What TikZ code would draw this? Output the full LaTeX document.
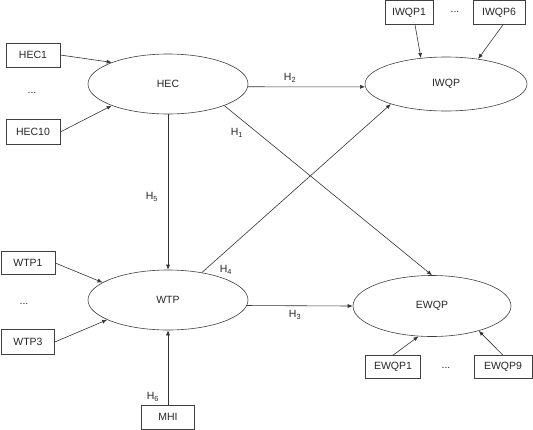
\documentclass[tikz,border=0pt]{standalone}
\usepackage{fontspec}
\setmainfont{Liberation Sans}
\usetikzlibrary{shapes.geometric,arrows.meta}
\begin{document}
\begin{tikzpicture}[x=1pt,y=-1pt,
  every node/.style={font=\fontsize{10.5}{12}\selectfont, text=black!85},
  lat/.style={draw=black!75, ellipse, line width=0.6pt, inner sep=0pt, minimum width=160pt, minimum height=60pt},
  ind/.style={draw=black!75, rectangle, line width=0.6pt, inner sep=0pt, minimum width=54pt, minimum height=24pt},
  lbl/.style={inner sep=0pt},
  arr/.style={draw=black!80, line width=0.6pt, -{Latex[length=5pt,width=4pt]}}
]
\useasboundingbox (0,0) rectangle (533,429);
% latent variables
\node[lat] (hec) at (168,84) {HEC};
\node[lat, minimum width=162pt, minimum height=54pt] (iwqp) at (446,84) {IWQP};
\node[lat] (wtp) at (168,300) {WTP};
\node[lat, minimum width=158pt, minimum height=61pt] (ewqp) at (432,306) {EWQP};
% indicators
\node[ind] (hec1) at (33,55) {HEC1};
\node[ind, minimum height=25pt] (hec10) at (33,132) {HEC10};
\node[lbl] (d1) at (32,93) {...};
\node[ind, minimum width=48pt] (iwqp1) at (409,12.5) {IWQP1};
\node[ind, minimum width=52pt] (iwqp6) at (499,12.5) {IWQP6};
\node[lbl] (d2) at (455,12) {...};
\node[ind, minimum height=23pt] (wtp1) at (28,263) {WTP1};
\node[ind, minimum width=53pt, minimum height=25pt] (wtp3) at (28,342) {WTP3};
\node[lbl] (d3) at (24,304) {...};
\node[ind, minimum width=53pt] (mhi) at (168,417) {MHI};
\node[ind, minimum width=55pt, minimum height=23pt] (ewqp1) at (393,367) {EWQP1};
\node[ind, minimum width=58pt, minimum height=23pt] (ewqp9) at (503,367) {EWQP9};
\node[lbl] (d4) at (446,368) {...};
% hypothesis labels
\node[lbl] (h1) at (237,133) {H\textsubscript{1}};
\node[lbl] (h2) at (290,78) {H\textsubscript{2}};
\node[lbl] (h3) at (295,315) {H\textsubscript{3}};
\node[lbl] (h4) at (226,270) {H\textsubscript{4}};
\node[lbl] (h5) at (152,197) {H\textsubscript{5}};
\node[lbl] (h6) at (153,397) {H\textsubscript{6}};
% measurement arrows
\draw[arr] (hec1.east) -- (hec.159);
\draw[arr] (hec10.east) -- (hec.201);
\draw[arr] ([xshift=6pt]iwqp1.south) -- (iwqp.134);
\draw[arr] ([xshift=4pt]iwqp6.south) -- (iwqp.38);
\draw[arr] (wtp1.east) -- (wtp.165);
\draw[arr] (wtp3.east) -- (wtp.198);
\draw[arr] (ewqp1.north) -- (ewqp.246);
\draw[arr] (ewqp9.north) -- (ewqp.-28);
% structural paths
\draw[arr] (hec.-2.5) -- (iwqp.182.5);
\draw[arr] (hec.-21) -- (ewqp.north);
\draw[arr] (hec.south) -- (wtp.north);
\draw[arr] (wtp.39) -- (iwqp.200);
\draw[arr] (wtp.-4.4) -- (ewqp.west);
\draw[arr] (mhi.north) -- (wtp.south);
\end{tikzpicture}
\end{document}
